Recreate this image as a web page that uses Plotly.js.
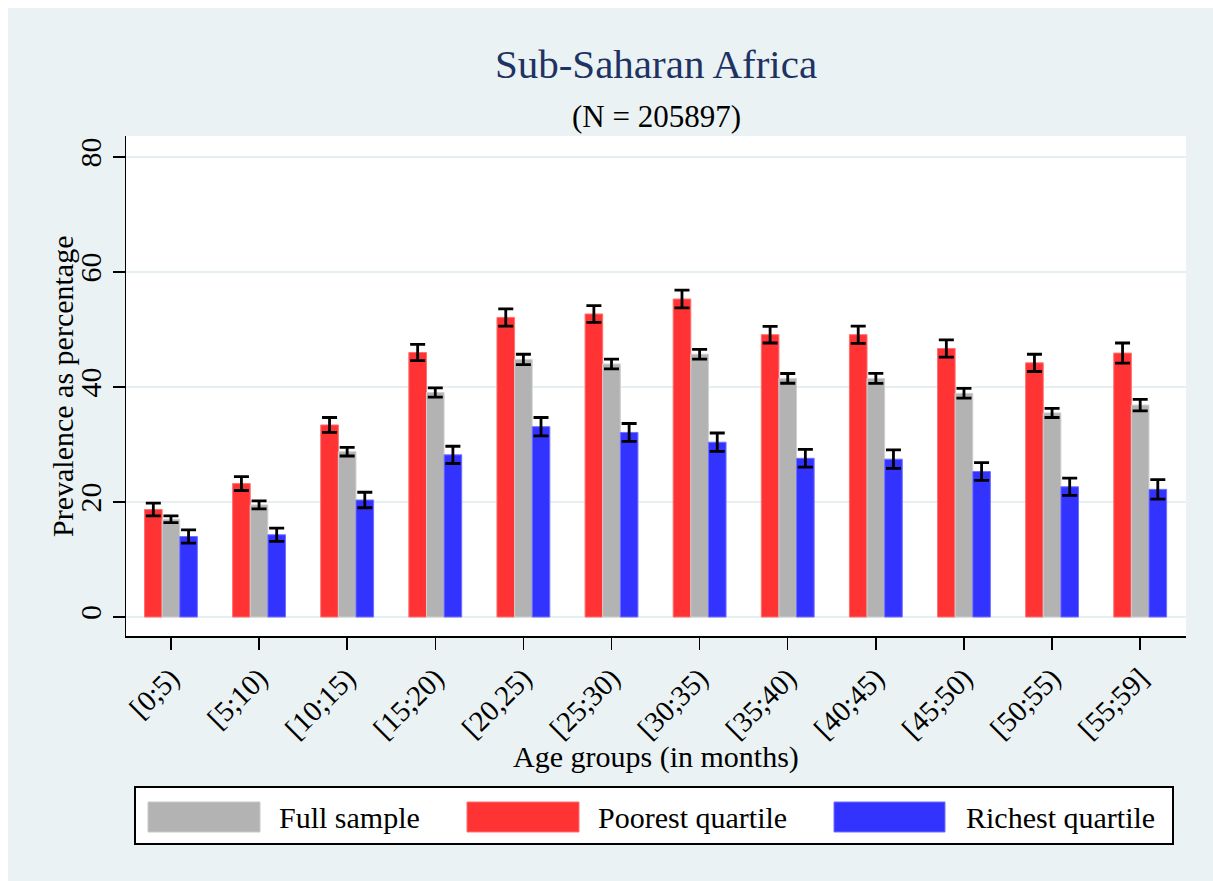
<!DOCTYPE html>
<html>
<head>
<meta charset="utf-8">
<script src="https://cdn.plot.ly/plotly-3.0.1.min.js"></script>
<style>html,body{margin:0;padding:0;background:#fff;} #chart{width:1213px;height:881px;}</style>
</head>
<body>
<div id="chart"></div>
<script>
const categories = ['[0;5)','[5;10)','[10;15)','[15;20)','[20,25)','[25;30)','[30;35)','[35;40)','[40;45)','[45;50)','[50;55)','[55;59]'];
const seriesNames = ['Full sample', 'Poorest quartile', 'Richest quartile'];
const poorest    = [18.7, 23.2, 33.4, 46.0, 52.1, 52.7, 55.3, 49.1, 49.1, 46.7, 44.2, 45.9];
const poorestErr = [1.1, 1.2, 1.3, 1.4, 1.5, 1.45, 1.55, 1.45, 1.5, 1.5, 1.5, 1.75];
const full       = [17.0, 19.5, 28.75, 39.05, 44.8, 44.0, 45.7, 41.5, 41.5, 38.9, 35.5, 36.85];
const fullErr    = [0.6, 0.7, 0.75, 0.8, 0.9, 0.85, 0.85, 0.85, 0.87, 0.85, 0.8, 1.0];
const richest    = [14.0, 14.3, 20.35, 28.2, 33.1, 32.1, 30.4, 27.6, 27.45, 25.3, 22.65, 22.2];
const richestErr = [1.15, 1.15, 1.35, 1.5, 1.6, 1.55, 1.6, 1.55, 1.6, 1.55, 1.5, 1.7];
const yTicks = [0, 20, 40, 60, 80];

const COL_FULL = '#B3B3B3', COL_POOR = '#FF3333', COL_RICH = '#3333FF';
const FONT = '"Liberation Serif", "Times New Roman", Times, serif';
const BG = '#EAF2F3';

// plot area in pixels
const L = 126, R = 1186, T = 136, B = 636, W = 1213, H = 881;
const px = x => (x - L) / (R - L);
const py = y => (B - y) / (B - T);

function errOpts(arr) {
  return {type: 'data', array: arr, visible: true, color: '#000', thickness: 2.8, width: 7.5};
}

const traces = [
  {type: 'bar', name: seriesNames[1], x: categories, y: poorest, error_y: errOpts(poorestErr),
   marker: {color: COL_POOR, line: {color: '#FF7070', width: 1}}},
  {type: 'bar', name: seriesNames[0], x: categories, y: full, error_y: errOpts(fullErr),
   marker: {color: COL_FULL, line: {color: '#D0D0D0', width: 1}}},
  {type: 'bar', name: seriesNames[2], x: categories, y: richest, error_y: errOpts(richestErr),
   marker: {color: COL_RICH, line: {color: '#7070FF', width: 1}}}
];

const shapes = [
  // white outer strips (top / left)
  {type: 'rect', xref: 'paper', yref: 'paper', x0: px(0), x1: px(W), y0: py(8), y1: py(0), fillcolor: '#fff', line: {width: 0}, layer: 'below'},
  {type: 'rect', xref: 'paper', yref: 'paper', x0: px(0), x1: px(8), y0: py(H), y1: py(0), fillcolor: '#fff', line: {width: 0}, layer: 'below'},
  // legend box
  {type: 'rect', xref: 'paper', yref: 'paper', x0: px(135), x1: px(1173), y0: py(844), y1: py(787), fillcolor: '#fff', line: {color: '#000', width: 2}},
  {type: 'rect', xref: 'paper', yref: 'paper', x0: px(148), x1: px(260), y0: py(832), y1: py(802), fillcolor: COL_FULL, line: {color: '#C8C8C8', width: 1}},
  {type: 'rect', xref: 'paper', yref: 'paper', x0: px(467), x1: px(579), y0: py(832), y1: py(802), fillcolor: COL_POOR, line: {color: '#FF7070', width: 1}},
  {type: 'rect', xref: 'paper', yref: 'paper', x0: px(834), x1: px(945), y0: py(832), y1: py(802), fillcolor: COL_RICH, line: {color: '#7070FF', width: 1}}
];

const annotations = [
  {xref: 'paper', yref: 'paper', x: 0.5, y: py(117), xanchor: 'center', yanchor: 'middle', showarrow: false,
   text: '(N = 205897)', font: {family: FONT, size: 31, color: '#000'}},
  {xref: 'paper', yref: 'paper', x: px(62), y: py(387), xanchor: 'center', yanchor: 'middle', showarrow: false,
   textangle: -90, text: 'Prevalence as percentage', font: {family: FONT, size: 30, color: '#000'}},
  {xref: 'paper', yref: 'paper', x: 0.5, y: py(757), xanchor: 'center', yanchor: 'middle', showarrow: false,
   text: 'Age groups (in months)', font: {family: FONT, size: 30, color: '#000'}},
  {xref: 'paper', yref: 'paper', x: px(277), y: py(817), xanchor: 'left', yanchor: 'middle', showarrow: false,
   text: seriesNames[0], font: {family: FONT, size: 30, color: '#000'}},
  {xref: 'paper', yref: 'paper', x: px(596), y: py(817), xanchor: 'left', yanchor: 'middle', showarrow: false,
   text: seriesNames[1], font: {family: FONT, size: 30, color: '#000'}},
  {xref: 'paper', yref: 'paper', x: px(964), y: py(817), xanchor: 'left', yanchor: 'middle', showarrow: false,
   text: seriesNames[2], font: {family: FONT, size: 30, color: '#000'}}
];

const layout = {
  width: W, height: H,
  paper_bgcolor: BG, plot_bgcolor: '#fff',
  margin: {l: L, r: W - R, t: T, b: H - B, pad: 0},
  showlegend: false,
  barmode: 'group', bargap: 0.4, bargroupgap: 0,
  font: {family: FONT, color: '#000'},
  title: {text: 'Sub-Saharan Africa', x: 0.5, xref: 'paper', xanchor: 'center',
          y: 1 - 64 / H, yref: 'container', yanchor: 'middle',
          font: {family: FONT, size: 41, color: '#1E3263'}},
  xaxis: {
    type: 'category', categoryorder: 'array', categoryarray: categories,
    range: [-0.51, 11.52], fixedrange: true,
    showline: true, linecolor: '#000', linewidth: 1.5,
    ticks: 'outside', ticklen: 12, tickwidth: 1.5, tickcolor: '#000',
    tickangle: -45, tickfont: {family: FONT, size: 29, color: '#000'},
    showgrid: false, zeroline: false
  },
  yaxis: {
    range: [-3.3, 83.65], fixedrange: true,
    tickvals: yTicks, ticktext: yTicks.map(String),
    showline: true, linecolor: '#000', linewidth: 1.5,
    ticks: 'outside', ticklen: 12, tickwidth: 1.5, tickcolor: '#000',
    tickangle: -90, tickfont: {family: FONT, size: 30, color: '#000'},
    showgrid: true, gridcolor: '#E6EFF1', gridwidth: 2.5, zeroline: false
  },
  shapes: shapes,
  annotations: annotations
};

Plotly.newPlot('chart', traces, layout, {displayModeBar: false, staticPlot: true});
</script>
</body>
</html>
